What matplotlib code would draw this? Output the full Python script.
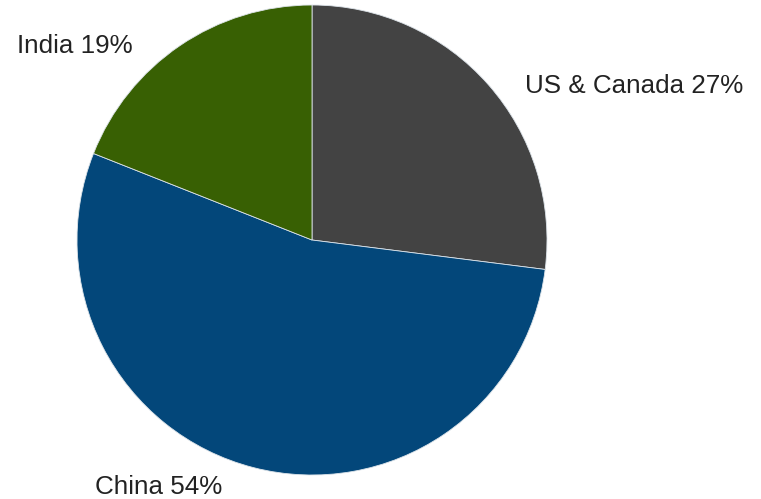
import matplotlib.pyplot as plt

# Share by region, drawn clockwise from 12 o'clock
regions = ["US & Canada", "China", "India"]
shares = [27, 54, 19]
colours = ["#434343", "#03477a", "#386003"]

# label anchor (left edge, vertical centre) in pie-radius units
label_pos = [(0.906, 0.655), (-0.923, -1.051), (-1.255, 0.826)]

plt.rcParams["font.family"] = ["Liberation Sans", "DejaVu Sans"]

fig = plt.figure(figsize=(7.61, 4.99), dpi=100)
fig.patch.set_facecolor("white")
ax = fig.add_axes([0, 0, 1, 1])

ax.pie(
    shares,
    colors=colours,
    startangle=90,
    counterclock=False,
    radius=1.0,
    center=(0, 0),
    frame=True,
    wedgeprops=dict(edgecolor="#dde4ea", linewidth=0.6),
)

for name, pct, (x, y) in zip(regions, shares, label_pos):
    ax.text(x, y, f"{name} {pct}%", ha="left", va="center",
            fontsize=18.7, color="#222222")

ax.set_xlim(-1.3277, 1.9106)
ax.set_ylim(-1.1021, 1.0213)
ax.set_aspect("equal", adjustable="box")
ax.axis("off")

fig.savefig("out.png", dpi=100, facecolor="white")
